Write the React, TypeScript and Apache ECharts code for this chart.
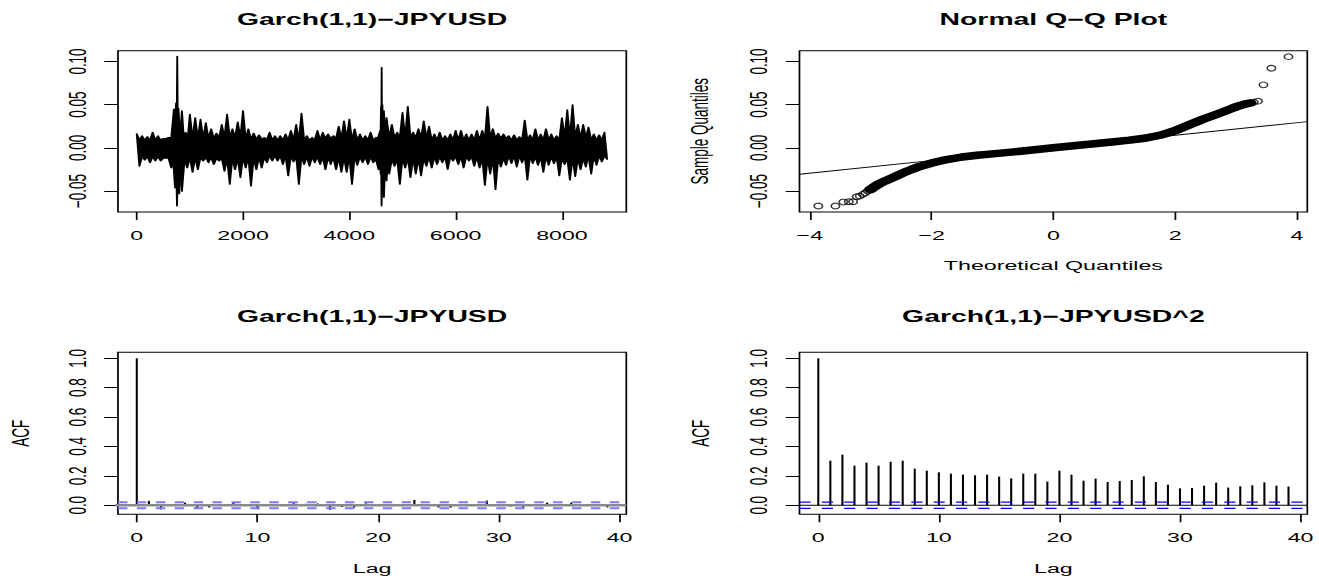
import React, { useEffect, useRef } from "react";
import * as echarts from "echarts";

// The reference is an R plot stretched horizontally; we draw at W0 and stretch by S.
const W0 = 767;
const S = 1319 / W0;
const FONT = '"Liberation Sans", Arial, Helvetica, sans-serif';

// ---- Panel 1: Garch(1,1)-JPYUSD residual series: spike tips (upper / lower) ----
const tsUpperIdx = [
  0, 100, 200, 300, 400, 500, 600, 700, 740, 762, 785, 850, 920, 1000, 1100, 1200, 1300, 1400, 1500, 1600,
  1700, 1800, 1900, 2000, 2100, 2200, 2300, 2400, 2500, 2600, 2700, 2800, 2900, 3000, 3100, 3200, 3300, 3400,
  3500, 3600, 3700, 3800, 3900, 4000, 4100, 4200, 4300, 4400, 4500, 4580, 4596, 4608, 4622, 4650, 4700, 4800,
  4900, 5000, 5100, 5200, 5300, 5400, 5500, 5600, 5700, 5800, 5900, 6000, 6100, 6200, 6300, 6400, 6500, 6600,
  6700, 6800, 6900, 7000, 7100, 7200, 7300, 7400, 7500, 7600, 7700, 7800, 7900, 8000, 8100, 8200, 8300, 8400,
  8500, 8600, 8700, 8800,
];
const tsUpper = [
  0.0165, 0.014, 0.013, 0.018, 0.014, 0.011, 0.012, 0.045, 0.052, 0.106, 0.046, 0.043, 0.018, 0.039, 0.035, 0.033, 0.029, 0.022, 0.017, 0.027,
  0.039, 0.022, 0.03, 0.043, 0.022, 0.017, 0.015, 0.012, 0.018, 0.014, 0.014, 0.016, 0.02, 0.027, 0.04, 0.014, 0.012, 0.02,
  0.018, 0.016, 0.014, 0.025, 0.031, 0.033, 0.022, 0.016, 0.014, 0.018, 0.012, 0.02, 0.048, 0.093, 0.05, 0.043, 0.035, 0.027,
  0.018, 0.041, 0.048, 0.018, 0.022, 0.031, 0.025, 0.016, 0.018, 0.014, 0.016, 0.02, 0.02, 0.016, 0.016, 0.02, 0.02, 0.048,
  0.022, 0.017, 0.016, 0.014, 0.015, 0.013, 0.032, 0.015, 0.022, 0.016, 0.022, 0.016, 0.014, 0.035, 0.044, 0.05, 0.027, 0.027,
  0.024, 0.016, 0.015, 0.018,
];
const tsLowerIdx = [
  50, 150, 250, 350, 450, 550, 650, 720, 758, 800, 850, 950, 1050, 1150, 1250, 1350, 1450, 1550, 1650, 1750,
  1850, 1950, 2050, 2150, 2250, 2350, 2450, 2550, 2650, 2750, 2850, 2950, 3050, 3150, 3250, 3350, 3450, 3550,
  3650, 3750, 3850, 3950, 4050, 4150, 4250, 4350, 4450, 4550, 4590, 4606, 4650, 4700, 4750, 4850, 4950, 5050,
  5150, 5250, 5350, 5450, 5550, 5650, 5750, 5850, 5950, 6050, 6150, 6250, 6350, 6450, 6550, 6650, 6750, 6850,
  6950, 7050, 7150, 7250, 7350, 7450, 7550, 7650, 7750, 7850, 7950, 8050, 8150, 8250, 8350, 8450, 8550, 8650,
  8750, 8850,
];
const tsLower = [
  -0.021, -0.014, -0.017, -0.015, -0.015, -0.012, -0.023, -0.046, -0.067, -0.053, -0.05, -0.023, -0.028, -0.025, -0.015, -0.017, -0.019, -0.015, -0.027, -0.042,
  -0.025, -0.034, -0.023, -0.044, -0.025, -0.023, -0.017, -0.015, -0.015, -0.019, -0.032, -0.016, -0.042, -0.019, -0.021, -0.017, -0.019, -0.025,
  -0.019, -0.025, -0.028, -0.028, -0.042, -0.02, -0.017, -0.019, -0.017, -0.025, -0.03, -0.067, -0.057, -0.038, -0.03, -0.021, -0.042, -0.023,
  -0.034, -0.03, -0.032, -0.021, -0.023, -0.019, -0.017, -0.025, -0.015, -0.019, -0.023, -0.015, -0.021, -0.023, -0.043, -0.03, -0.048, -0.022,
  -0.02, -0.018, -0.022, -0.017, -0.037, -0.018, -0.02, -0.028, -0.02, -0.018, -0.032, -0.019, -0.037, -0.033, -0.025, -0.022, -0.03, -0.02,
  -0.016, -0.013,
];
// solid inner core of the band, read per 500 observations
const CORE_STEP = 500;
const tsCoreUp = [0.009, 0.012, 0.011, 0.012, 0.01, 0.009, 0.009, 0.011, 0.009, 0.012, 0.012, 0.009, 0.009, 0.011, 0.009, 0.009, 0.012, 0.009];
const tsCoreLow = [-0.01, -0.013, -0.011, -0.012, -0.011, -0.009, -0.01, -0.011, -0.01, -0.013, -0.012, -0.01, -0.01, -0.012, -0.009, -0.01, -0.012, -0.009];
const tsXTicks = [0, 2000, 4000, 6000, 8000];
const retYTicks = [-0.05, 0, 0.05, 0.1];
const retYLabels = ["\u22120.05", "0.00", "0.05", "0.10"];

// ---- Panel 2: Normal Q-Q plot ----
const qqTheo = [
  -3.86, -3.58, -3.45, -3.36, -3.29, -3.23, -3.18, -3.13, -3.09, -3.05,
  -3.0, -2.94, -2.85, -2.77, -2.66, -2.55, -2.44, -2.33, -2.2, -2.0,
  -1.75, -1.5, -1.25, -1.0, -0.5, 0, 0.5, 1.0, 1.25, 1.5,
  1.77, 2.0, 2.26, 2.45, 2.61, 2.8, 2.95, 3.05, 3.16, 3.23,
  3.29, 3.36, 3.45, 3.58, 3.86,
];
const qqSample = [
  -0.0672, -0.0672, -0.0626, -0.0622, -0.0622, -0.0564, -0.0557, -0.0537, -0.052, -0.0499,
  -0.048, -0.0449, -0.041, -0.0384, -0.035, -0.0315, -0.028, -0.0249, -0.0215, -0.0175,
  -0.0135, -0.0105, -0.0085, -0.0068, -0.0035, 0.0002, 0.0037, 0.0072, 0.009, 0.0112,
  0.015, 0.02, 0.0275, 0.033, 0.0372, 0.042, 0.0462, 0.0488, 0.051, 0.052,
  0.053, 0.0541, 0.073, 0.0922, 0.1056,
];
const qqLineTheo = [-4.17, 4.17];
const qqLineSample = [-0.0304, 0.0304];
const qqXTicks = [-4, -2, 0, 2, 4];
const qqXLabels = ["\u22124", "\u22122", "0", "2", "4"];

// ---- Panels 3 & 4: ACF ----
const lags = Array.from({ length: 40 }, (_, i) => i);
const acfRes = [
  1, 0.03, -0.028, 0.008, 0.018, -0.022, -0.015, 0.005, 0.016, -0.005,
  -0.027, 0.006, -0.006, 0.014, 0.01, 0.012, -0.03, -0.012, -0.016, 0.012,
  0.004, -0.006, 0.005, 0.036, 0.008, -0.015, -0.016, 0.006, 0.004, 0.032,
  0.005, -0.008, -0.015, 0.006, 0.018, -0.005, 0.018, 0.008, 0.004, -0.015,
];
const acfSq = [
  1, 0.303, 0.344, 0.269, 0.29, 0.269, 0.296, 0.303, 0.249, 0.235,
  0.224, 0.215, 0.208, 0.204, 0.208, 0.195, 0.183, 0.215, 0.215, 0.161,
  0.235, 0.208, 0.167, 0.181, 0.158, 0.165, 0.172, 0.197, 0.158, 0.14,
  0.115, 0.118, 0.133, 0.154, 0.12, 0.129, 0.136, 0.156, 0.133, 0.127,
];
const acfClim = 0.0208;
const acfXTicks = [0, 10, 20, 30, 40];
const acfYTicks = [0, 0.2, 0.4, 0.6, 0.8, 1.0];
const acfYLabels = ["0.0", "0.2", "0.4", "0.6", "0.8", "1.0"];

const titles = ["Garch(1,1)\u2212JPYUSD", "Normal Q\u2212Q Plot", "Garch(1,1)\u2212JPYUSD", "Garch(1,1)\u2212JPYUSD^2"];

const grids = [
  { left: 68.6, top: 50.7, width: 295.6, height: 161.3 },
  { left: 464.9, top: 50.7, width: 295.3, height: 161.3 },
  { left: 68.6, top: 352.3, width: 295.6, height: 162 },
  { left: 464.9, top: 352.3, width: 295.3, height: 162 },
];

function labelFor(ticks: number[], labels: string[] | null) {
  return (v: number) => {
    if (!labels) return String(v);
    const i = ticks.findIndex((t) => Math.abs(t - v) < 1e-9);
    return i >= 0 ? labels[i] : String(v);
  };
}

const nameStyle = { fontSize: 13.5, fontFamily: FONT, color: "#000" };

function axis(gridIndex: number, min: number, max: number, ticks: number[], labels: string[] | null, isY: boolean, name?: string, gap?: number) {
  return {
    type: "value",
    gridIndex,
    min,
    max,
    axisLine: { show: false, onZero: false },
    axisTick: { show: true, inside: false, length: 8, customValues: ticks, lineStyle: { color: "#000", width: 1 } },
    axisLabel: {
      show: true,
      customValues: ticks,
      margin: 16.5,
      rotate: isY ? 90 : 0,
      fontSize: 13.5,
      fontFamily: FONT,
      color: "#000",
      formatter: labelFor(ticks, labels),
    },
    splitLine: { show: false },
    name: name || "",
    nameLocation: "middle",
    nameGap: gap || 0,
    nameRotate: isY ? 90 : 0,
    nameTextStyle: nameStyle,
  };
}

function coreAt(arr: number[], x: number) {
  const k = Math.max(0, Math.min(arr.length - 1, Math.floor(x / CORE_STEP)));
  return arr[k];
}

export default function App() {
  const ref = useRef<HTMLDivElement>(null);
  useEffect(() => {
    if (!ref.current) return;
    const chart = echarts.init(ref.current, null, { renderer: "svg" });

    const upperPts = tsUpperIdx.map((x, i) => [x, tsUpper[i]]);
    const lowerPts = tsLowerIdx.map((x, i) => [x, tsLower[i]]);
    // outline: spike tips with the band's core level between them
    const topLine: number[][] = [];
    upperPts.forEach((p, j) => {
      topLine.push(p);
      const n = upperPts[j + 1];
      if (n) {
        const m = (p[0] + n[0]) / 2;
        topLine.push([m, Math.min(coreAt(tsCoreUp, m), p[1], n[1])]);
      }
    });
    const botLine: number[][] = [];
    lowerPts.forEach((p, j) => {
      botLine.push(p);
      const n = lowerPts[j + 1];
      if (n) {
        const m = (p[0] + n[0]) / 2;
        botLine.push([m, Math.max(coreAt(tsCoreLow, m), p[1], n[1])]);
      }
    });

    const qqPts = qqTheo.map((t, i) => [t, qqSample[i]]);
    const qqBand = qqPts.filter((p) => p[0] >= -3.0 && p[0] <= 3.23);

    const option: any = {
      animation: false,
      backgroundColor: "#fff",
      grid: grids.map((g) => ({
        ...g,
        show: true,
        borderColor: "#000",
        borderWidth: 1,
        backgroundColor: "transparent",
        containLabel: false,
        outerBoundsMode: "none",
      })),
      xAxis: [
        axis(0, -353, 9211, tsXTicks, null, false),
        axis(1, -4.17, 4.17, qqXTicks, qqXLabels, false, "Theoretical Quantiles", 46),
        axis(2, -1.56, 40.56, acfXTicks, null, false, "Lag", 47),
        axis(3, -1.56, 40.56, acfXTicks, null, false, "Lag", 47),
      ],
      yAxis: [
        axis(0, -0.0741, 0.1125, retYTicks, retYLabels, true),
        axis(1, -0.0741, 0.1125, retYTicks, retYLabels, true, "Sample Quantiles", 51),
        axis(2, -0.0616, 1.0408, acfYTicks, acfYLabels, true, "ACF", 49.5),
        axis(3, -0.0616, 1.0408, acfYTicks, acfYLabels, true, "ACF", 50),
      ],
      graphic: titles.map((t, i) => ({
        type: "text",
        x: grids[i].left + grids[i].width / 2,
        y: i < 2 ? 19.3 : 316.5,
        style: {
          text: t,
          fill: "#000",
          font: `bold 16.5px ${FONT}`,
          textAlign: "center",
          textVerticalAlign: "middle",
        },
      })),
      series: [
        {
          type: "custom",
          coordinateSystem: "cartesian2d",
          xAxisIndex: 0,
          yAxisIndex: 0,
          data: [[0, 0]],
          clip: true,
          renderItem: (_params: any, api: any) => {
            const pts = [
              ...topLine.map((p) => api.coord(p)),
              ...botLine.slice().reverse().map((p) => api.coord(p)),
            ];
            return {
              type: "polygon",
              shape: { points: pts },
              style: { fill: "#000", stroke: "#000", lineWidth: 1.1, lineJoin: "round" },
            };
          },
        },
        {
          type: "line",
          xAxisIndex: 1,
          yAxisIndex: 1,
          data: qqLineTheo.map((t, i) => [t, qqLineSample[i]]),
          symbol: "none",
          lineStyle: { color: "#000", width: 0.9 },
        },
        {
          type: "line",
          xAxisIndex: 1,
          yAxisIndex: 1,
          data: qqBand,
          symbol: "none",
          lineStyle: { color: "#000", width: 7.5, join: "round", cap: "round" },
        },
        {
          type: "scatter",
          xAxisIndex: 1,
          yAxisIndex: 1,
          data: qqPts,
          symbol: "circle",
          symbolSize: [4.9, 5.7],
          itemStyle: { color: "rgba(0,0,0,0)", borderColor: "#000", borderWidth: 1 },
        },
        {
          type: "bar",
          xAxisIndex: 2,
          yAxisIndex: 2,
          data: lags.map((l, i) => [l, acfRes[i]]),
          barWidth: 1.2,
          itemStyle: { color: "#000" },
        },
        {
          type: "line",
          xAxisIndex: 2,
          yAxisIndex: 2,
          data: [[-2.76, 0], [40.56, 0]],
          symbol: "none",
          clip: false,
          lineStyle: { color: "#8a8a8a", width: 2.4 },
        },
        ...[acfClim, -acfClim].map((c) => ({
          type: "line",
          xAxisIndex: 2,
          yAxisIndex: 2,
          data: [[-1.56, c], [40.56, c]],
          symbol: "none",
          lineStyle: { color: "#7b7bff", width: 2, type: [5.5, 5.5] },
        })),
        {
          type: "bar",
          xAxisIndex: 3,
          yAxisIndex: 3,
          data: lags.map((l, i) => [l, acfSq[i]]),
          barWidth: 1.2,
          itemStyle: { color: "#000" },
        },
        {
          type: "line",
          xAxisIndex: 3,
          yAxisIndex: 3,
          data: [[-1.56, 0], [40.56, 0]],
          symbol: "none",
          lineStyle: { color: "#000", width: 1 },
        },
        ...[acfClim, -acfClim].map((c) => ({
          type: "line",
          xAxisIndex: 3,
          yAxisIndex: 3,
          data: [[-1.56, c], [40.56, c]],
          symbol: "none",
          lineStyle: { color: "#0000ff", width: 1.2, type: [6.5, 6.5] },
        })),
      ],
    };
    chart.setOption(option);
    return () => chart.dispose();
  }, []);

  return (
    <div style={{ position: "fixed", left: 0, top: 0, width: 1319, height: 578, overflow: "hidden", background: "#fff" }}>
      <div
        ref={ref}
        style={{ width: W0, height: 578, transform: `scaleX(${S})`, transformOrigin: "0 0" }}
      />
    </div>
  );
}
